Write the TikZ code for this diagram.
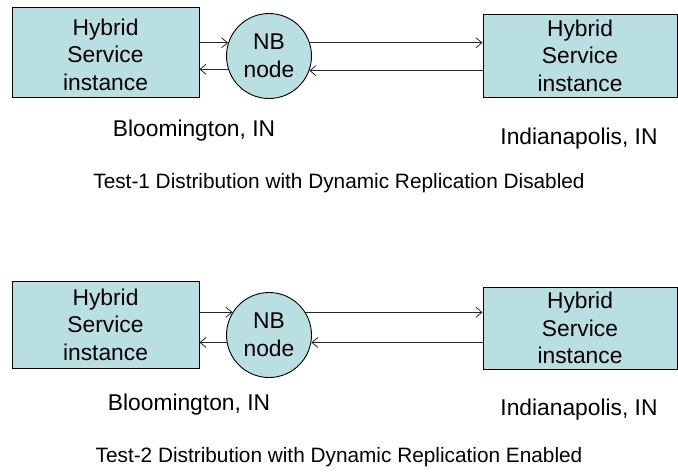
\documentclass[tikz,border=0pt]{standalone}
\usepackage{fontspec}
\setmainfont{Liberation Sans}
\usetikzlibrary{arrows.meta}
\definecolor{boxfill}{HTML}{B9DFE3}
\begin{document}
\begin{tikzpicture}[x=1pt,y=-1pt,
  every node/.style={font=\fontsize{22.8}{27.5}\selectfont, inner sep=0pt},
  svcbox/.style={draw=black, line width=0.9pt, fill=boxfill, align=center, minimum width=#1},
  nbcirc/.style={draw=black, line width=0.9pt, fill=boxfill, circle, minimum size=85pt, align=center},
  link/.style={line width=0.8pt, draw=black!85, -{Straight Barb[length=6pt,width=10pt]}},
  lbl/.style={anchor=center},
  captxt/.style={anchor=center, font=\fontsize{20.8}{25}\selectfont}]
\useasboundingbox (0,0) rectangle (678,472);
% ---- Test 1 ----
\node[svcbox=187pt, minimum height=90pt] (lb1) at (105.5,52) {\rule{0pt}{22pt}Hybrid\\Service\\instance};
\node[nbcirc] (nb1) at (269,56) {NB\\node};
\node[svcbox=194pt, minimum height=83pt] (rb1) at (580,55.5) {Hybrid\\Service\\instance};
\draw[link] (lb1.east |- nb1.162) -- (nb1.162);
\draw[link] (nb1.198) -- (lb1.east |- nb1.198);
\draw[link] (nb1.18) -- (rb1.west |- nb1.18);
\draw[link] (rb1.west |- nb1.340) -- (nb1.340);
\node[lbl] (bl1) at (194,131) {Bloomington, IN};
\node[lbl] (in1) at (579,139) {Indianapolis, IN};
\node[captxt] (t1) at (339,183) {Test-1 Distribution with Dynamic Replication Disabled};
% ---- Test 2 ----
\node[svcbox=187pt, minimum height=87pt] (lb2) at (105.5,324.5) {Hybrid\\Service\\instance};
\node[nbcirc] (nb2) at (269,335) {NB\\node};
\node[svcbox=194pt, minimum height=82pt] (rb2) at (580,328) {Hybrid\\Service\\instance};
\draw[link] (lb2.east |- nb2.148) -- (nb2.148);
\draw[link] (nb2.190) -- (lb2.east |- nb2.190);
\draw[link] (nb2.32) -- (rb2.west |- nb2.32);
\draw[link] (rb2.west |- nb2.350) -- (nb2.350);
\node[lbl] (bl2) at (189,405) {Bloomington, IN};
\node[lbl] (in2) at (579,410) {Indianapolis, IN};
\node[captxt] (t2) at (339,457) {Test-2 Distribution with Dynamic Replication Enabled};
\end{tikzpicture}
\end{document}
